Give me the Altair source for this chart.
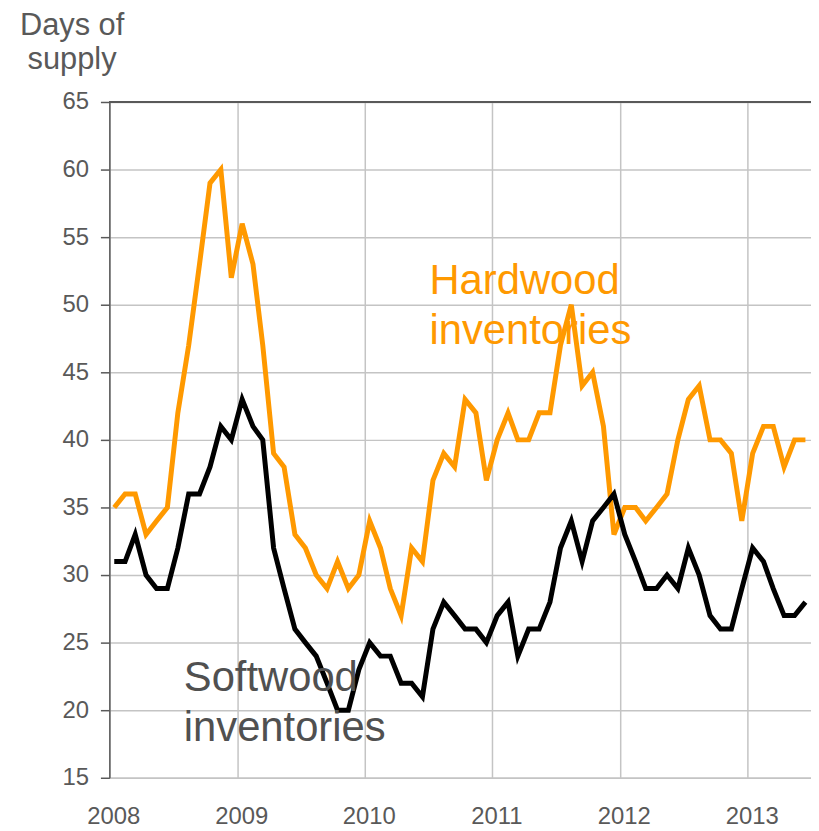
import altair as alt
import pandas as pd

FONT = "Liberation Sans"

years = [2008, 2009, 2010, 2011, 2012, 2013]

softwood = [
    31, 31, 33, 30, 29, 29, 32, 36, 36, 38, 41, 40,
    43, 41, 40, 32, 29, 26, 25, 24, 22, 20, 20, 23,
    25, 24, 24, 22, 22, 21, 26, 28, 27, 26, 26, 25,
    27, 28, 24, 26, 26, 28, 32, 34, 31, 34, 35, 36,
    33, 31, 29, 29, 30, 29, 32, 30, 27, 26, 26, 29,
    32, 31, 29, 27, 27, 28,
]
hardwood = [
    35, 36, 36, 33, 34, 35, 42, 47, 53, 59, 60, 52,
    56, 53, 47, 39, 38, 33, 32, 30, 29, 31, 29, 30,
    34, 32, 29, 27, 32, 31, 37, 39, 38, 43, 42, 37,
    40, 42, 40, 40, 42, 42, 47, 50, 44, 45, 41, 33,
    35, 35, 34, 35, 36, 40, 43, 44, 40, 40, 39, 34,
    39, 41, 41, 38, 40, 40,
]

months = [f"{2008 + i // 12}-{i % 12 + 1:02d}-15" for i in range(len(softwood))]

ann_text = ["Hardwood", "inventories", "Softwood", "inventories"]
ann_date = ["2010-07-05", "2010-07-05", "2008-08-01", "2008-08-01"]
ann_value = [50.8, 47.1, 21.4, 17.7]
ann_color = ["#FF9900", "#FF9900", "#505050", "#505050"]

y_ticks = [15, 20, 25, 30, 35, 40, 45, 50, 55, 60, 65]

df = pd.DataFrame({
    "date": months * 2,
    "value": hardwood + softwood,
    "series": ["Hardwood"] * len(hardwood) + ["Softwood"] * len(softwood),
})
ann = pd.DataFrame({"text": ann_text, "date": ann_date, "value": ann_value, "color": ann_color})

x_scale = alt.Scale(
    type="utc",
    domain=[alt.DateTime(year=2008, month=1, date=1, utc=True),
            alt.DateTime(year=2013, month=7, date=1, utc=True)],
)
y_scale = alt.Scale(domain=[15, 65], nice=False, zero=False)

x_axis = alt.Axis(
    title=None,
    values=[alt.DateTime(year=y, month=1, date=1, utc=True) for y in years],
    format="%Y",
    grid=True, gridColor="#c4c4c4", gridWidth=1.5,
    ticks=False,
    domainColor="#c4c4c4", domainWidth=1.5,
    labelFont=FONT, labelFontSize=24, labelColor="#595959",
    labelPadding=27, labelOffset=4, labelFlush=False, labelOverlap=False,
)
y_axis = alt.Axis(
    title=["Days of", "supply"],
    titleAngle=0, titleAlign="center", titleBaseline="alphabetic",
    titleX=-38, titleY=-68,
    titleFont=FONT, titleFontSize=31, titleFontWeight="normal",
    titleColor="#595959", titleLineHeight=34,
    values=y_ticks,
    grid=True, gridColor="#c4c4c4", gridWidth=1.5,
    tickSize=9, tickColor="#595959", tickWidth=1.5,
    domainColor="#595959", domainWidth=1.5,
    labelFont=FONT, labelFontSize=24, labelColor="#595959",
    labelPadding=12, labelFlush=False,
)

lines = alt.Chart(df).mark_line(strokeWidth=5, strokeJoin="miter").encode(
    x=alt.X("date:T", scale=x_scale, axis=x_axis),
    y=alt.Y("value:Q", scale=y_scale, axis=y_axis),
    color=alt.Color("series:N",
                    scale=alt.Scale(domain=["Hardwood", "Softwood"], range=["#FF9900", "#000000"]),
                    legend=None),
)

top_rule = alt.Chart(df).mark_rule(color="#595959", strokeWidth=2).encode(
    y=alt.datum(65),
)

texts = alt.Chart(ann).mark_text(
    align="left", baseline="alphabetic", font=FONT, fontSize=42,
).encode(
    x=alt.X("date:T", scale=x_scale),
    y=alt.Y("value:Q", scale=y_scale),
    text="text:N",
    color=alt.Color("color:N", scale=None),
)

chart = alt.layer(lines, top_rule, texts).properties(
    width=706, height=680,
    padding={"left": 102, "top": 92, "right": 0, "bottom": 54},
    autosize=alt.AutoSizeParams(type="none"),
).configure_view(stroke=None)

chart.save("out.html", embed_options={"renderer": "svg", "actions": False})
